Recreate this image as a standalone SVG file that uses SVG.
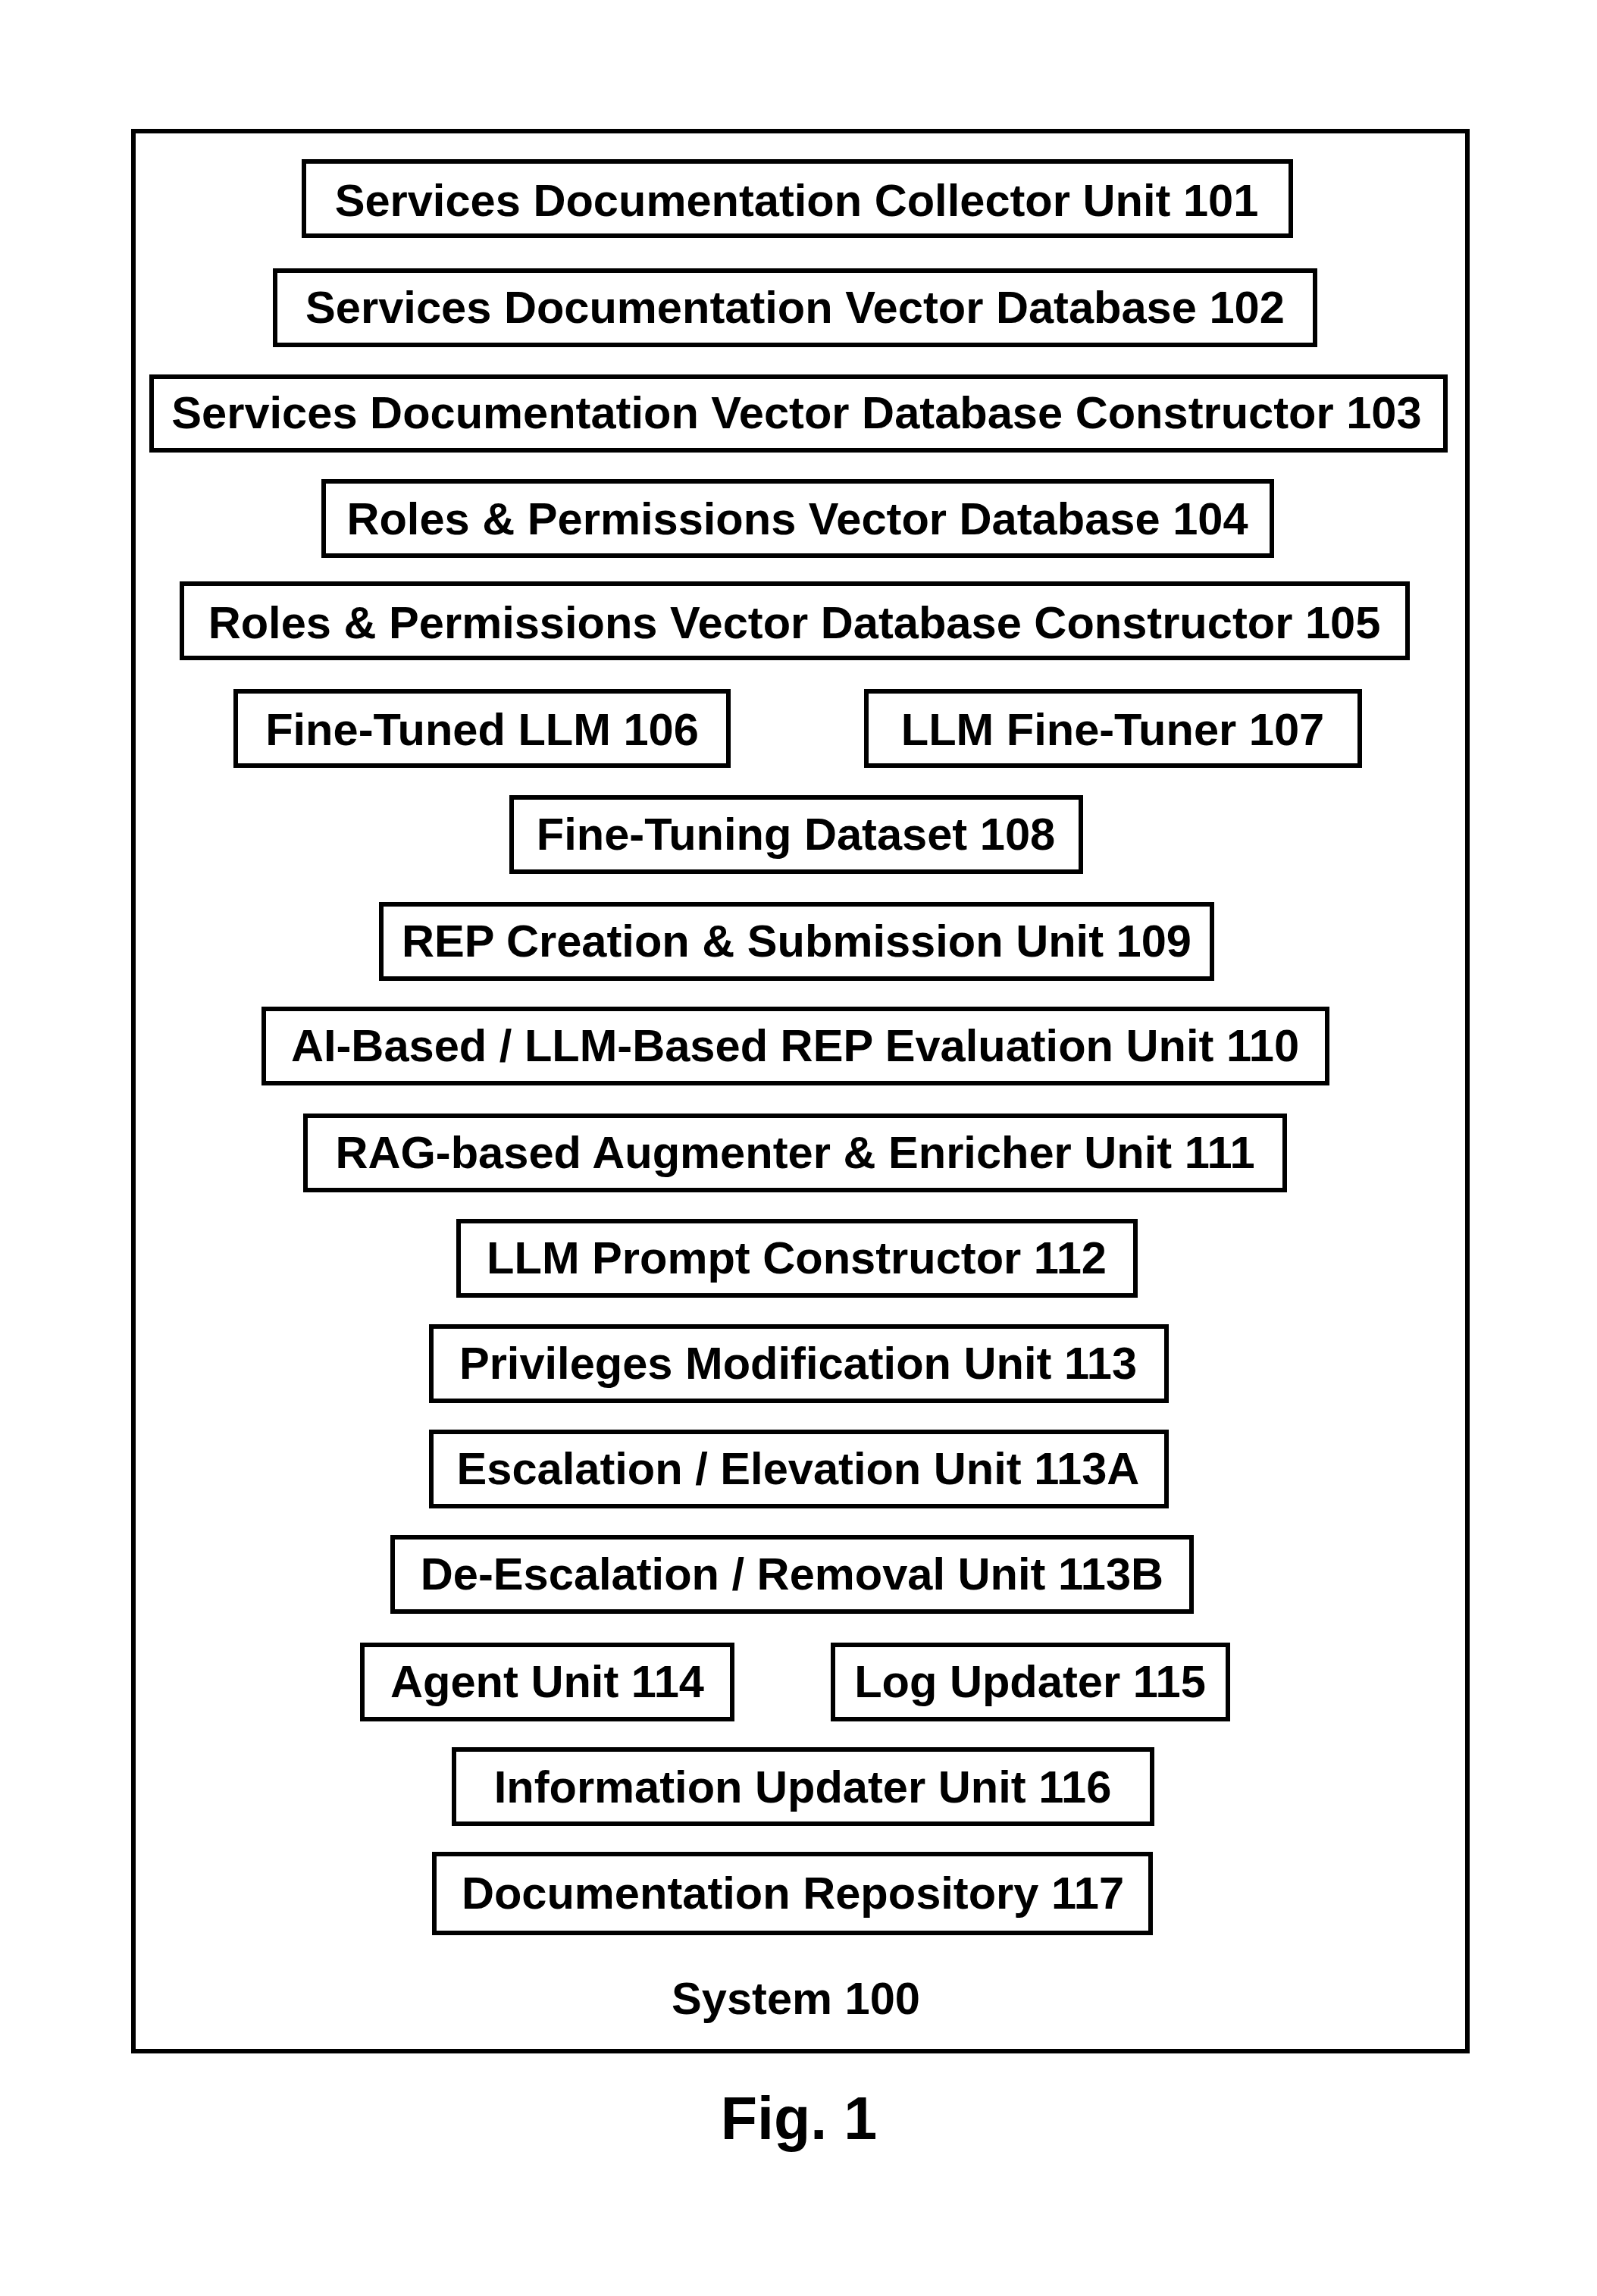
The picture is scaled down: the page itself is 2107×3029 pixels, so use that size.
<svg xmlns="http://www.w3.org/2000/svg" width="2107" height="3029" viewBox="0 0 2107 3029">
<style>
.frame{fill:none;stroke:#000;stroke-width:6}
.box{fill:#fff;stroke:#000;stroke-width:6}
.lbl{font-family:"Liberation Sans",Arial,sans-serif;font-weight:bold;font-size:59.6px;text-anchor:middle;fill:#000}
.fig{font-family:"Liberation Sans",Arial,sans-serif;font-weight:bold;font-size:79px;text-anchor:middle;fill:#000}
</style>
<rect width="2107" height="3029" fill="#fff"/>
<g id="system-100">
<rect class="frame" x="176" y="173" width="1760" height="2533"/>
<text class="lbl" x="1050" y="2657">System 100</text>
</g>
<g id="connectors"></g>
<g id="n101"><rect class="box" x="401" y="213" width="1302" height="98"/><text class="lbl" x="1051" y="285">Services Documentation Collector Unit 101</text></g>
<g id="n102"><rect class="box" x="363" y="357" width="1372" height="98"/><text class="lbl" x="1049" y="426">Services Documentation Vector Database 102</text></g>
<g id="n103"><rect class="box" x="200" y="497" width="1707" height="97"/><text class="lbl" x="1051" y="565">Services Documentation Vector Database Constructor 103</text></g>
<g id="n104"><rect class="box" x="427" y="635" width="1251" height="98"/><text class="lbl" x="1052" y="705">Roles &amp; Permissions Vector Database 104</text></g>
<g id="n105"><rect class="box" x="240" y="770" width="1617" height="98"/><text class="lbl" x="1048" y="842">Roles &amp; Permissions Vector Database Constructor 105</text></g>
<g id="n106"><rect class="box" x="311" y="912" width="650" height="98"/><text class="lbl" x="636" y="983">Fine-Tuned LLM 106</text></g>
<g id="n107"><rect class="box" x="1143" y="912" width="651" height="98"/><text class="lbl" x="1468" y="983">LLM Fine-Tuner 107</text></g>
<g id="n108"><rect class="box" x="675" y="1052" width="751" height="98"/><text class="lbl" x="1050" y="1121">Fine-Tuning Dataset 108</text></g>
<g id="n109"><rect class="box" x="503" y="1193" width="1096" height="98"/><text class="lbl" x="1051" y="1262">REP Creation &amp; Submission Unit 109</text></g>
<g id="n110"><rect class="box" x="348" y="1331" width="1403" height="98"/><text class="lbl" x="1049" y="1400">AI-Based / LLM-Based REP Evaluation Unit 110</text></g>
<g id="n111"><rect class="box" x="403" y="1472" width="1292" height="98"/><text class="lbl" x="1049" y="1541">RAG-based Augmenter &amp; Enricher Unit 111</text></g>
<g id="n112"><rect class="box" x="605" y="1611" width="893" height="98"/><text class="lbl" x="1051" y="1680">LLM Prompt Constructor 112</text></g>
<g id="n113"><rect class="box" x="569" y="1750" width="970" height="98"/><text class="lbl" x="1053" y="1819">Privileges Modification Unit 113</text></g>
<g id="n113A"><rect class="box" x="569" y="1889" width="970" height="98"/><text class="lbl" x="1053" y="1958">Escalation / Elevation Unit 113A</text></g>
<g id="n113B"><rect class="box" x="518" y="2028" width="1054" height="98"/><text class="lbl" x="1045" y="2097">De-Escalation / Removal Unit 113B</text></g>
<g id="n114"><rect class="box" x="478" y="2170" width="488" height="98"/><text class="lbl" x="722" y="2239">Agent Unit 114</text></g>
<g id="n115"><rect class="box" x="1099" y="2170" width="521" height="98"/><text class="lbl" x="1359" y="2239">Log Updater 115</text></g>
<g id="n116"><rect class="box" x="599" y="2308" width="921" height="98"/><text class="lbl" x="1059" y="2378">Information Updater Unit 116</text></g>
<g id="n117"><rect class="box" x="573" y="2446" width="945" height="104"/><text class="lbl" x="1046" y="2518">Documentation Repository 117</text></g>
<text class="fig" x="1054" y="2822">Fig. 1</text>
</svg>
